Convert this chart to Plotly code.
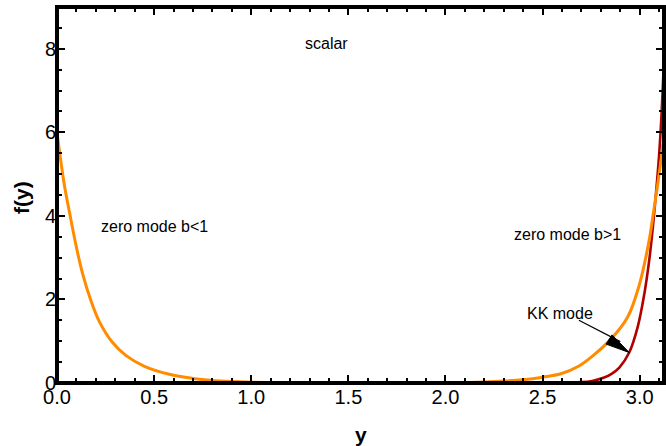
import plotly.graph_objects as go

# ---- data ----
y_zero_lt1 = [0, 0.02, 0.04, 0.07, 0.1, 0.13, 0.174, 0.22, 0.284, 0.354, 0.45, 0.578, 0.7, 0.8, 0.9, 1.0, 1.2, 1.4, 1.57]
f_zero_lt1 = [6.0, 5.3, 4.68, 3.95, 3.25, 2.65, 1.98, 1.45, 0.98, 0.66, 0.40, 0.21, 0.11, 0.06, 0.033, 0.018, 0.005, 0.001, 0.0]

y_zero_gt1 = [1.57, 1.8, 2.0, 2.2, 2.3, 2.4, 2.5, 2.594, 2.685, 2.766, 2.852, 2.938, 2.995, 3.046, 3.072, 3.1, 3.125]
f_zero_gt1 = [0.0, 0.002, 0.007, 0.025, 0.045, 0.08, 0.14, 0.22, 0.40, 0.68, 1.05, 1.58, 2.30, 3.35, 4.12, 5.0, 5.9]

y_kk = [0, 2.3, 2.5, 2.6, 2.697, 2.755, 2.817, 2.855, 2.895, 2.946, 2.989, 3.024, 3.049, 3.067, 3.083, 3.099, 3.112, 3.125]
f_kk = [0, 0, 0.002, 0.006, 0.02, 0.05, 0.13, 0.22, 0.37, 0.73, 1.33, 2.14, 2.94, 3.7, 4.5, 5.4, 6.4, 7.7]

x_tick_vals = [0, 0.5, 1.0, 1.5, 2.0, 2.5, 3.0]
x_tick_text = ["0.0", "0.5", "1.0", "1.5", "2.0", "2.5", "3.0"]
y_tick_vals = [0, 2, 4, 6, 8]
y_tick_text = ["0", "2", "4", "6", "8"]

X_RANGE = [0, 3.125]
Y_RANGE = [0, 9]

ORANGE = "#FF8C00"
DARKRED = "#B00000"
FONT = "Liberation Sans, Arial, sans-serif"

fig = go.Figure()
fig.add_trace(go.Scatter(x=y_kk, y=f_kk, mode="lines", line_shape="spline",
                         line=dict(color=DARKRED, width=2.6), name="KK mode"))
fig.add_trace(go.Scatter(x=y_zero_lt1, y=f_zero_lt1, mode="lines", line_shape="spline",
                         line=dict(color=ORANGE, width=3), name="zero mode b<1"))
fig.add_trace(go.Scatter(x=y_zero_gt1, y=f_zero_gt1, mode="lines", line_shape="spline",
                         line=dict(color=ORANGE, width=3), name="zero mode b>1"))
# empty trace to activate the top/right tick axes
fig.add_trace(go.Scatter(x=[], y=[], xaxis="x2", yaxis="y2", showlegend=False, hoverinfo="skip"))

tick_common = dict(
    ticks="inside", ticklen=8, tickwidth=2, tickcolor="black",
    showline=False, showgrid=False, zeroline=False, automargin=False,
    tickfont=dict(family=FONT, size=20, color="black"),
)
x_minor = dict(dtick=0.1, ticks="inside", ticklen=5, tickwidth=2, tickcolor="black", showgrid=False)
y_minor = dict(dtick=0.5, ticks="inside", ticklen=5, tickwidth=2, tickcolor="black", showgrid=False)

fig.update_layout(
    xaxis=dict(range=X_RANGE, tickmode="array", tickvals=x_tick_vals, ticktext=x_tick_text,
               minor=x_minor, **tick_common),
    yaxis=dict(range=Y_RANGE, tickmode="array", tickvals=y_tick_vals, ticktext=y_tick_text,
               minor=y_minor, **tick_common),
    xaxis2=dict(range=X_RANGE, overlaying="x", side="top", anchor="y2", tickmode="array",
                tickvals=x_tick_vals, showticklabels=False, minor=x_minor, **tick_common),
    yaxis2=dict(range=Y_RANGE, overlaying="y", side="right", anchor="x2", tickmode="array",
                tickvals=y_tick_vals, showticklabels=False, minor=y_minor, **tick_common),
)

# frame
fig.add_shape(type="rect", xref="paper", yref="paper", x0=0, x1=1, y0=0, y1=1,
              line=dict(color="black", width=4), layer="above")

# arrow for KK mode
fig.add_shape(type="line", xref="x", yref="y", x0=2.687, y0=1.50, x1=2.90, y1=0.99,
              line=dict(color="black", width=1.2), layer="above")
fig.add_shape(type="path", xref="x", yref="y", xsizemode="pixel", ysizemode="pixel",
              xanchor=2.946, yanchor=0.73,
              path="M 0 0 L -23.2 8.4 L -17.2 17.6 Z",
              fillcolor="black", line=dict(color="black", width=1), layer="above")

txt = dict(family=FONT, size=16, color="black")
fig.add_annotation(x=1.39, y=8.13, text="scalar", showarrow=False, font=txt)
fig.add_annotation(x=0.50, y=3.74, text="zero mode b&lt;1", showarrow=False, font=txt)
fig.add_annotation(x=2.63, y=3.55, text="zero mode b&gt;1", showarrow=False, font=txt)
fig.add_annotation(x=2.59, y=1.67, text="KK mode", showarrow=False, font=txt)

# axis titles
fig.add_annotation(xref="paper", yref="paper", x=(21 - 57) / 607, y=(383 - 198) / 376,
                   xanchor="center", yanchor="middle",
                   text="<b>f(y)</b>", textangle=-90, showarrow=False,
                   font=dict(family=FONT, size=21, color="black"))
fig.add_annotation(xref="paper", yref="paper", x=(361 - 57) / 607, y=(383 - 434) / 376,
                   xanchor="center", yanchor="middle",
                   text="<b>y</b>", showarrow=False,
                   font=dict(family=FONT, size=21, color="black"))

fig.update_layout(
    width=666, height=446,
    margin=dict(l=57, r=2, t=7, b=63),
    paper_bgcolor="white", plot_bgcolor="white",
    showlegend=False,
)

fig.write_html("out.html", config={"displayModeBar": False},
               post_script="document.body.style.margin='0';")
